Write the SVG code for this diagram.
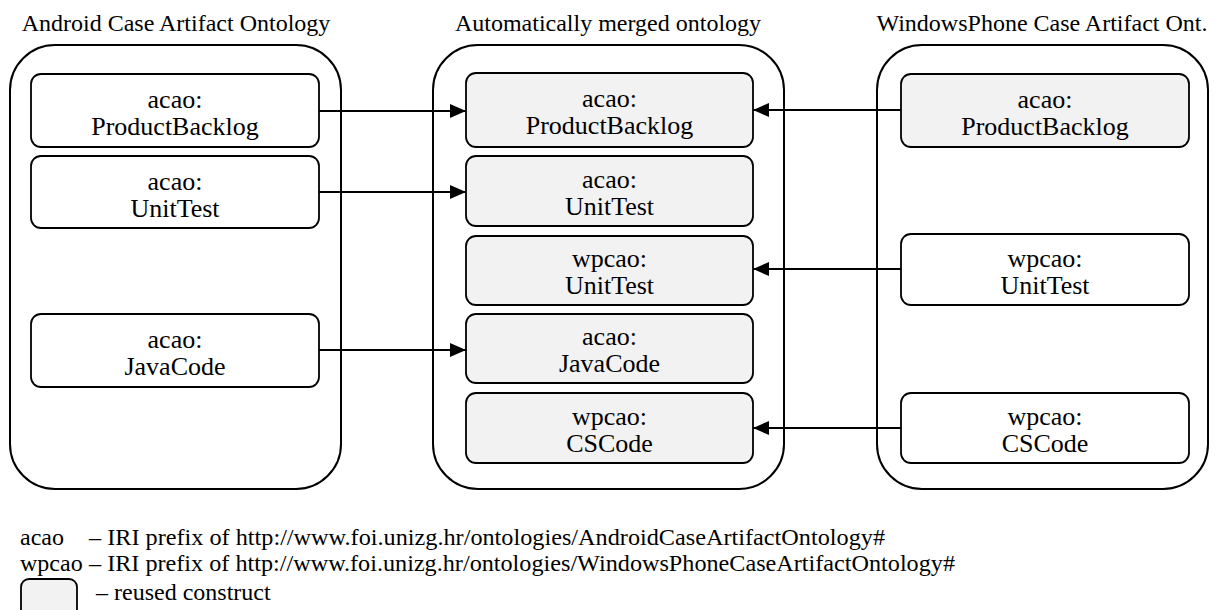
<svg xmlns="http://www.w3.org/2000/svg" width="1215" height="610" viewBox="0 0 1215 610">
<defs>
<style>
.title{font-family:"Liberation Serif","Times New Roman",serif;font-size:24px;fill:#000;text-anchor:middle}
.lbl{font-family:"Liberation Serif","Times New Roman",serif;font-size:26px;fill:#000;text-anchor:middle}
.leg{font-family:"Liberation Serif","Times New Roman",serif;font-size:24px;fill:#000}
.outer{fill:#fff;stroke:#000;stroke-width:2}
.node{fill:#fff;stroke:#000;stroke-width:1.8}
.reused{fill:#f2f2f2;stroke:#000;stroke-width:1.8}
.conn{stroke:#000;stroke-width:2.2;fill:none}
</style>
<marker id="arr" viewBox="0 0 16 14" refX="16" refY="7" markerUnits="userSpaceOnUse" markerWidth="16" markerHeight="14" orient="auto">
<path d="M0,0 L16,7 L0,14 Z" fill="#000"/>
</marker>
</defs>
<rect width="1215" height="610" fill="#fff"/>

<g id="android-ontology">
<text class="title" x="176" y="31">Android Case Artifact Ontology</text>
<rect class="outer" x="10" y="45" width="331" height="444" rx="45" ry="45"/>
</g>
<g id="merged-ontology">
<text class="title" x="608" y="31">Automatically merged ontology</text>
<rect class="outer" x="433" y="45" width="351" height="444" rx="45" ry="45"/>
</g>
<g id="wp-ontology">
<text class="title" x="1042" y="31">WindowsPhone Case Artifact Ont.</text>
<rect class="outer" x="877" y="45" width="331" height="444" rx="45" ry="45"/>
</g>

<g id="a-productbacklog">
<rect class="node" x="31" y="74" width="288" height="73" rx="10"/>
<text class="lbl" x="175" y="108">acao:</text>
<text class="lbl" x="175" y="135">ProductBacklog</text>
</g>
<g id="a-unittest">
<rect class="node" x="31" y="156" width="288" height="72" rx="10"/>
<text class="lbl" x="175" y="190">acao:</text>
<text class="lbl" x="175" y="217">UnitTest</text>
</g>
<g id="a-javacode">
<rect class="node" x="31" y="314" width="288" height="73" rx="10"/>
<text class="lbl" x="175" y="348">acao:</text>
<text class="lbl" x="175" y="375">JavaCode</text>
</g>

<g id="m-productbacklog">
<rect class="reused" x="466" y="73" width="287" height="74" rx="10"/>
<text class="lbl" x="609.5" y="107">acao:</text>
<text class="lbl" x="609.5" y="134">ProductBacklog</text>
</g>
<g id="m-a-unittest">
<rect class="reused" x="466" y="156" width="287" height="70" rx="10"/>
<text class="lbl" x="609.5" y="188">acao:</text>
<text class="lbl" x="609.5" y="215">UnitTest</text>
</g>
<g id="m-wp-unittest">
<rect class="reused" x="466" y="236" width="287" height="69" rx="10"/>
<text class="lbl" x="609.5" y="267">wpcao:</text>
<text class="lbl" x="609.5" y="294">UnitTest</text>
</g>
<g id="m-javacode">
<rect class="reused" x="466" y="314" width="287" height="69" rx="10"/>
<text class="lbl" x="609.5" y="345">acao:</text>
<text class="lbl" x="609.5" y="372">JavaCode</text>
</g>
<g id="m-cscode">
<rect class="reused" x="466" y="393" width="287" height="70" rx="10"/>
<text class="lbl" x="609.5" y="425">wpcao:</text>
<text class="lbl" x="609.5" y="452">CSCode</text>
</g>

<g id="w-productbacklog">
<rect class="reused" x="901" y="74" width="288" height="73" rx="10"/>
<text class="lbl" x="1045" y="108">acao:</text>
<text class="lbl" x="1045" y="135">ProductBacklog</text>
</g>
<g id="w-unittest">
<rect class="node" x="901" y="234" width="288" height="71" rx="10"/>
<text class="lbl" x="1045" y="267">wpcao:</text>
<text class="lbl" x="1045" y="294">UnitTest</text>
</g>
<g id="w-cscode">
<rect class="node" x="901" y="393" width="288" height="70" rx="10"/>
<text class="lbl" x="1045" y="425">wpcao:</text>
<text class="lbl" x="1045" y="452">CSCode</text>
</g>

<g id="connectors">
<line class="conn" x1="319" y1="111" x2="466" y2="111" marker-end="url(#arr)"/>
<line class="conn" x1="319" y1="192" x2="466" y2="192" marker-end="url(#arr)"/>
<line class="conn" x1="319" y1="350" x2="466" y2="350" marker-end="url(#arr)"/>
<line class="conn" x1="901" y1="110" x2="753" y2="110" marker-end="url(#arr)"/>
<line class="conn" x1="901" y1="269" x2="753" y2="269" marker-end="url(#arr)"/>
<line class="conn" x1="901" y1="428" x2="753" y2="428" marker-end="url(#arr)"/>
</g>

<g id="legend">
<text class="leg" x="20" y="545">acao</text>
<text class="leg" x="89" y="545" textLength="796" lengthAdjust="spacingAndGlyphs">– IRI prefix of http://www.foi.unizg.hr/ontologies/AndroidCaseArtifactOntology#</text>
<text class="leg" x="20" y="571">wpcao</text>
<text class="leg" x="89" y="571" textLength="866" lengthAdjust="spacingAndGlyphs">– IRI prefix of http://www.foi.unizg.hr/ontologies/WindowsPhoneCaseArtifactOntology#</text>
<rect class="reused" x="21" y="579" width="56" height="40" rx="8"/>
<text class="leg" x="96" y="600">– reused construct</text>
</g>
</svg>
